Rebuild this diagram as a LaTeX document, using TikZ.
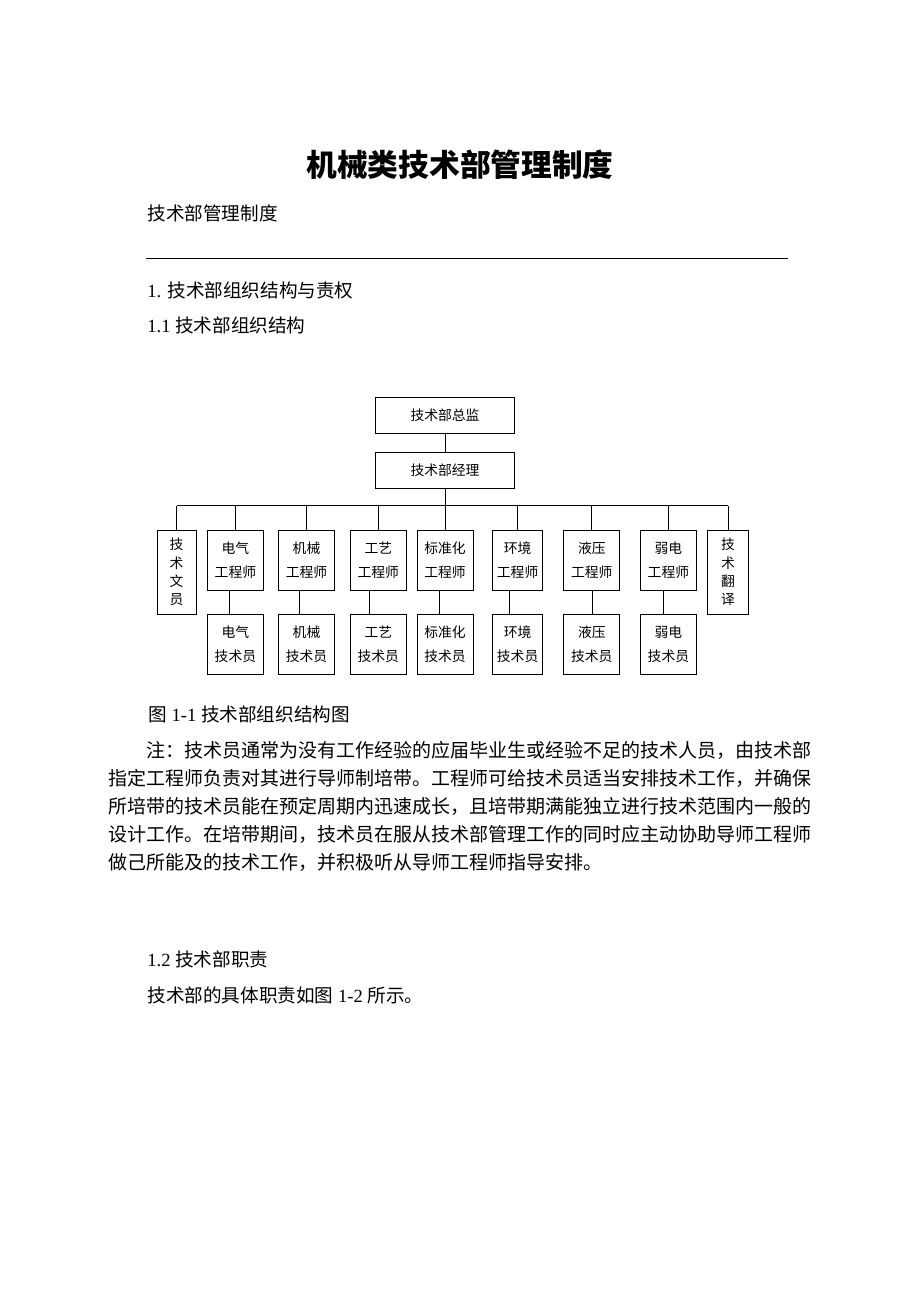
\documentclass[tikz,border=0pt]{standalone}
\usepackage{fontspec}
\setmainfont{Liberation Serif}
\newfontfamily\cjk{Noto Sans CJK SC}

\tikzset{
  orgbox/.style={draw, line width=0.5pt, inner sep=0pt, align=center,
    font=\cjk\fontsize{6.9pt}{12pt}\selectfont},
  vbox/.style={orgbox, font=\cjk\fontsize{6.9pt}{9.15pt}\selectfont},
  link/.style={line width=0.5pt},
  bodytext/.style={anchor=west, inner sep=0pt, font=\fontsize{9.3pt}{11pt}\selectfont},
  paratext/.style={anchor=west, inner sep=0pt, font=\cjk\fontsize{9.5pt}{11pt}\selectfont},
}

\begin{document}
\begin{tikzpicture}[x=0.5pt, y=-0.5pt]
\fill[white] (0,0) rectangle (920,1302);

% page head
\node[font=\cjk\bfseries\fontsize{15.35pt}{18pt}\selectfont] (title) at (460,165) {机械类技术部管理制度};
\node[bodytext] (sub) at (147,213) {\cjk 技术部管理制度};
\draw[line width=0.5pt] (146,258) -- (788,258);
\node[bodytext] (sec1) at (147,290) {1. {\cjk 技术部组织结构与责权}};
\node[bodytext] (sec11) at (147,325) {1.1 {\cjk 技术部组织结构}};

% org chart
\node[orgbox, minimum width=69.85pt, minimum height=18pt] (head) at (445,415.3) {技术部总监};
\node[orgbox, minimum width=69.85pt, minimum height=18pt] (mgr) at (445,470.3) {技术部经理};
\coordinate (bus) at (445,505.7);
\draw[link] (head) -- (mgr);
\draw[link] (mgr) -- (bus);

\node[vbox, minimum width=19.5pt, minimum height=42.15pt] (clerk) at (176.6,572.15) {技\\术\\文\\员};
\node[vbox, minimum width=20.85pt, minimum height=42.15pt] (trans) at (728,572.15) {技\\术\\翻\\译};
\draw[link] (clerk.north |- bus) -- (trans.north |- bus);
\draw[link] (clerk) -- (clerk.north |- bus);
\draw[link] (trans) -- (trans.north |- bus);

\foreach \i/\cx/\w/\nm/\off in {1/235.4/28/电气/-5.5, 2/306.5/28/机械/-6.7,
    3/378.3/27.75/工艺/-9, 4/445/28/标准化/-5.5, 5/517.6/25/环境/-7.8,
    6/591.8/28/液压/1, 7/668.4/27.8/弱电/-5.3}{
  \node[orgbox, minimum width=\w pt, minimum height=30pt] (e\i) at (\cx,560) {\nm\\工程师};
  \node[orgbox, minimum width=\w pt, minimum height=30.2pt] (t\i) at (\cx,644.5) {\nm\\技术员};
  \draw[link] (e\i) -- (e\i.north |- bus);
  \draw[link] ([xshift=\off*0.5pt]e\i.south) -- ([xshift=\off*0.5pt]t\i.north);
}

% caption and note
\node[bodytext] (cap) at (148,714) {{\cjk 图} 1-1 {\cjk 技术部组织结构图}};
\node[paratext] (note1) at (146,750) {注：技术员通常为没有工作经验的应届毕业生或经验不足的技术人员，由技术部};
\node[paratext] (note2) at (108,778) {指定工程师负责对其进行导师制培带。工程师可给技术员适当安排技术工作，并确保};
\node[paratext] (note3) at (108,806) {所培带的技术员能在预定周期内迅速成长，且培带期满能独立进行技术范围内一般的};
\node[paratext] (note4) at (108,834) {设计工作。在培带期间，技术员在服从技术部管理工作的同时应主动协助导师工程师};
\node[paratext] (note5) at (108,862) {做己所能及的技术工作，并积极听从导师工程师指导安排。};

\node[bodytext] (sec12) at (147,959) {1.2 {\cjk 技术部职责}};
\node[bodytext] (duty) at (147,995) {{\cjk 技术部的具体职责如图} 1-2 {\cjk 所示。}};
\end{tikzpicture}
\end{document}
